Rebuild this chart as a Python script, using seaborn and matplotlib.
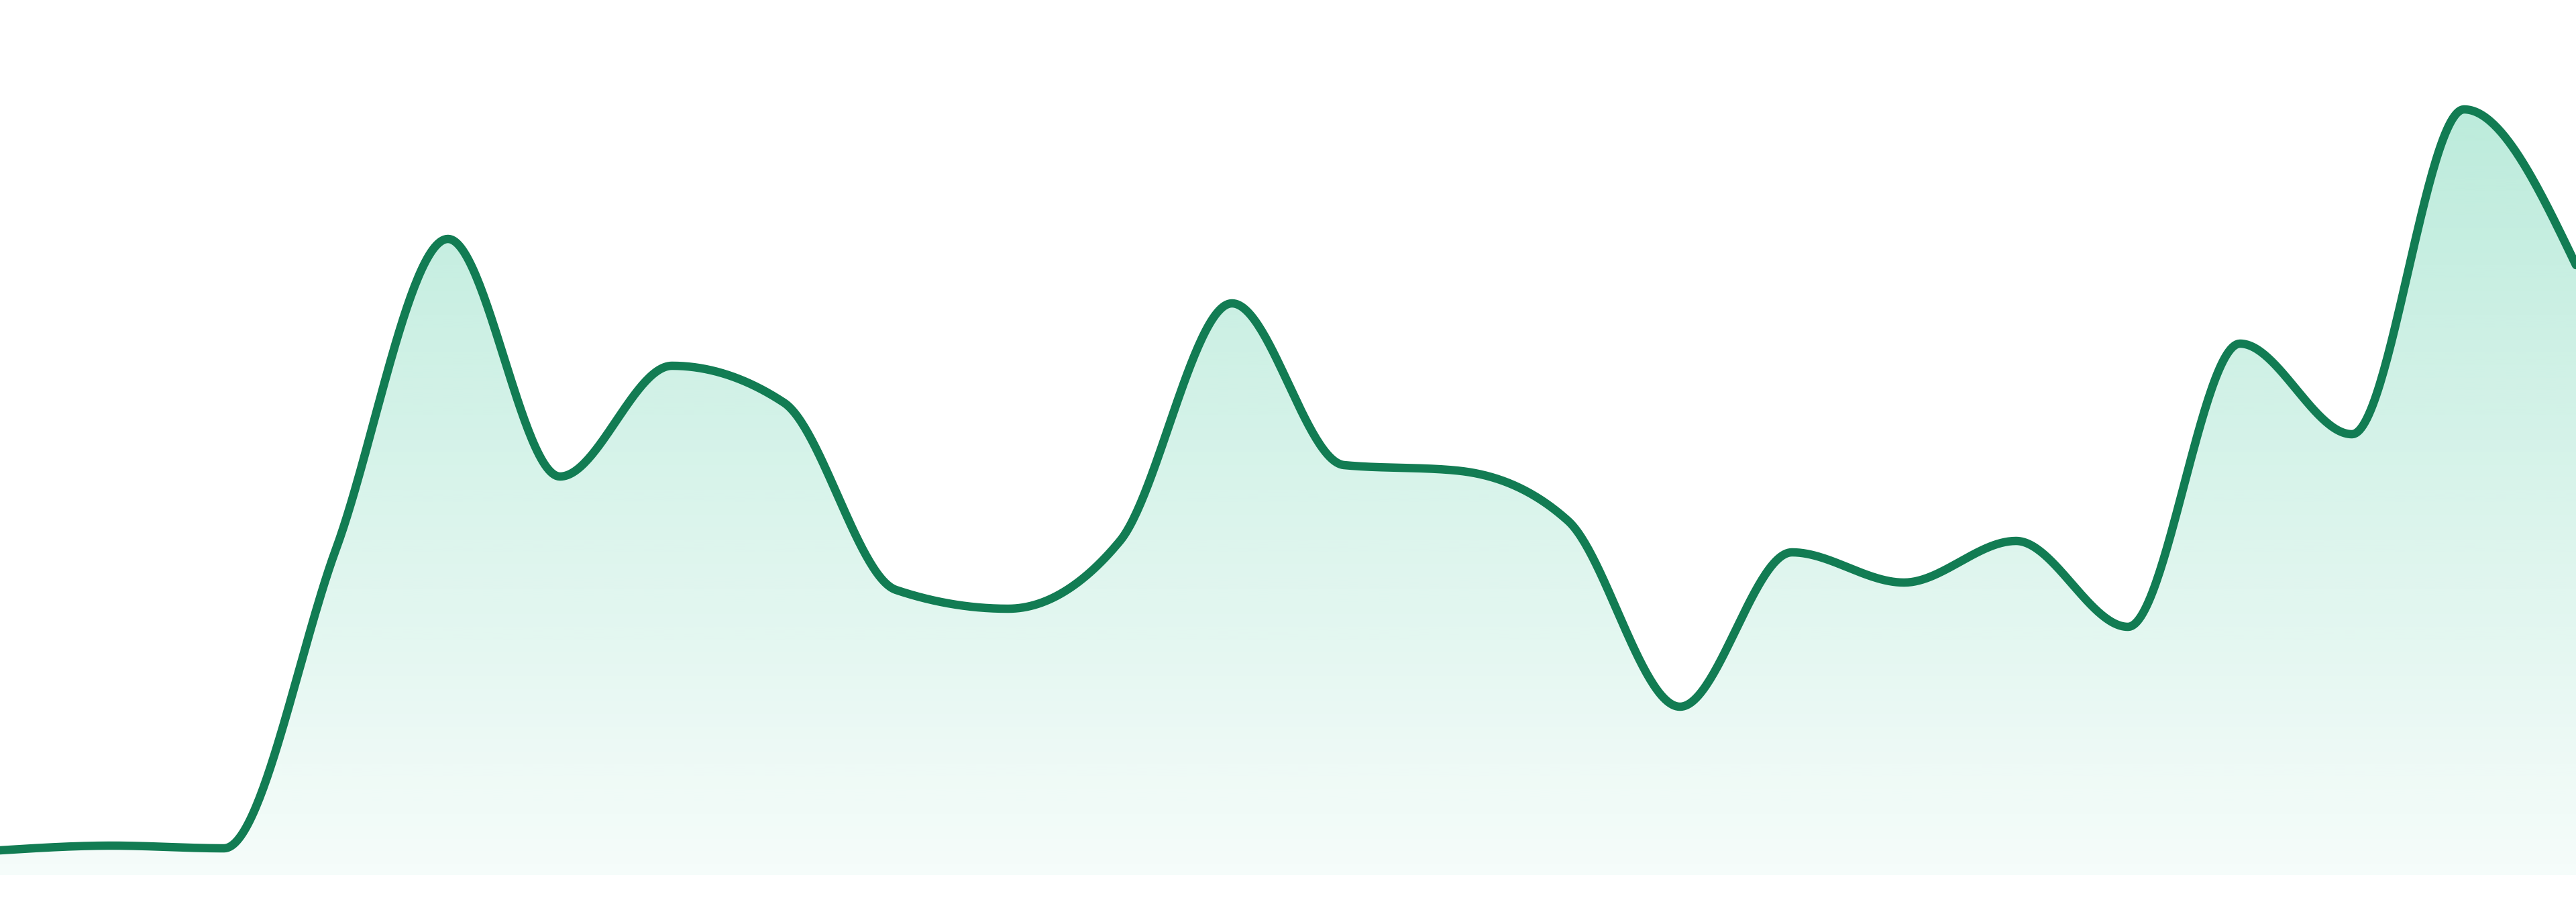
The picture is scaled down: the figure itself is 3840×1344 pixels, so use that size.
import numpy as np
import matplotlib
matplotlib.use("Agg")
import matplotlib.pyplot as plt
import seaborn as sns
import pandas as pd

# data (24 evenly spaced points)
points = list(range(24))
values = [3.7, 4.4, 4.0, 48.6, 94.8, 59.4, 75.9, 70.4, 42.5, 39.7, 49.8, 85.2,
          61.1, 60.3, 52.8, 25.1, 48.1, 43.6, 49.8, 37.0, 79.2, 65.7, 114.1, 90.9]

line_color = "#127c53"
fill_rgb = (16 / 255, 185 / 255, 129 / 255)


def monotone_x(x, y, n=60):
    # same tangents as d3.curveMonotoneX (Steffen)
    x = np.asarray(x, float)
    y = np.asarray(y, float)
    h = np.diff(x)
    s = np.diff(y) / h
    t = np.zeros(len(x))
    sgn = lambda v: -1.0 if v < 0 else 1.0
    for i in range(1, len(x) - 1):
        p = (s[i - 1] * h[i] + s[i] * h[i - 1]) / (h[i - 1] + h[i])
        t[i] = (sgn(s[i - 1]) + sgn(s[i])) * min(abs(s[i - 1]), abs(s[i]), 0.5 * abs(p))
    t[0] = (3 * s[0] - t[1]) / 2
    t[-1] = (3 * s[-1] - t[-2]) / 2
    xs, ys = [], []
    for i in range(len(x) - 1):
        u = np.linspace(0, 1, n, endpoint=False)
        h00 = 2 * u**3 - 3 * u**2 + 1
        h10 = u**3 - 2 * u**2 + u
        h01 = -2 * u**3 + 3 * u**2
        h11 = u**3 - u**2
        xs.append(x[i] + u * h[i])
        ys.append(h00 * y[i] + h10 * h[i] * t[i] + h01 * y[i + 1] + h11 * h[i] * t[i + 1])
    xs.append([x[-1]])
    ys.append([y[-1]])
    return np.concatenate(xs), np.concatenate(ys)


df = pd.DataFrame({"point": points, "value": values})
xs, ys = monotone_x(df["point"], df["value"])
curve = pd.DataFrame({"x": xs, "y": ys})

sns.set_style("white")
fig = plt.figure(figsize=(38.4, 13.44), dpi=100)
ax = fig.add_axes([0, 40 / 1344, 1, 1304 / 1344])

# gradient fill under the curve
top = max(values)
grad = np.zeros((256, 1, 4))
grad[:, 0, 0], grad[:, 0, 1], grad[:, 0, 2] = fill_rgb
grad[:, 0, 3] = np.linspace(0.28, 0.04, 256)
im = ax.imshow(grad, extent=[0, 23, 0, top], aspect="auto", origin="upper",
               interpolation="bilinear", zorder=1)
poly = ax.fill_between(curve["x"], curve["y"], 0, color="none", linewidth=0)
im.set_clip_path(poly.get_paths()[0], transform=ax.transData)

sns.lineplot(data=curve, x="x", y="y", ax=ax, color=line_color, linewidth=9,
             estimator=None, sort=False, zorder=3)
ax.set_xlim(0, 23)
ax.set_ylim(0, 130.4)
ax.axis("off")

fig.savefig("out.png", dpi=100, facecolor="white")
